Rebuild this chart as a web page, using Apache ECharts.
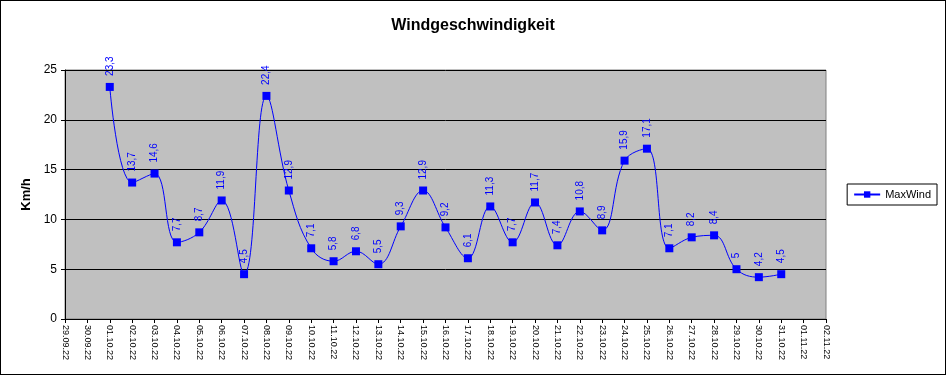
<!DOCTYPE html>
<html><head><meta charset="utf-8">
<script src="https://cdn.jsdelivr.net/npm/echarts@6/dist/echarts.min.js"></script>
<style>html,body{margin:0;padding:0;background:#fff}#c{width:946px;height:375px;box-sizing:border-box;border:1px solid #000}</style>
</head><body><div id="c"></div>
<script>
const categories = ["29.09.22","30.09.22","01.10.22","02.10.22","03.10.22","04.10.22","05.10.22","06.10.22","07.10.22","08.10.22","09.10.22","10.10.22","11.10.22","12.10.22","13.10.22","14.10.22","15.10.22","16.10.22","17.10.22","18.10.22","19.10.22","20.10.22","21.10.22","22.10.22","23.10.22","24.10.22","25.10.22","26.10.22","27.10.22","28.10.22","29.10.22","30.10.22","31.10.22","01.11.22","02.11.22"];
const maxWind = [null,null,23.3,13.7,14.6,7.7,8.7,11.9,4.5,22.4,12.9,7.1,5.8,6.8,5.5,9.3,12.9,9.2,6.1,11.3,7.7,11.7,7.4,10.8,8.9,15.9,17.1,7.1,8.2,8.4,5,4.2,4.5,null,null];
const yTicks = [0,5,10,15,20,25];

const chart = echarts.init(document.getElementById('c'));
chart.setOption({
  animation:false,
  title:{text:'Windgeschwindigkeit',left:'center',top:12,textStyle:{fontFamily:'Liberation Sans, Arial',fontSize:16,fontWeight:'bold',color:'#000'}},
  grid:{left:64,right:119,top:69,bottom:55,show:true,backgroundColor:'#c0c0c0',borderColor:'#808080',borderWidth:1},
  legend:{right:8,top:183,orient:'vertical',data:['MaxWind'],itemWidth:26,itemHeight:8,itemGap:4,
    borderColor:'#000',borderWidth:1,padding:[5,6,5,6],borderRadius:0,
    textStyle:{fontFamily:'Liberation Sans, Arial',fontSize:11,color:'#000'}},
  xAxis:{type:'category',data:categories,boundaryGap:false,
    axisLine:{lineStyle:{color:'#000'}},axisTick:{show:true,lineStyle:{color:'#000'},length:4},
    axisLabel:{rotate:-90,interval:0,fontFamily:'Liberation Sans, Arial',fontSize:9,color:'#000',margin:6},
    splitLine:{show:false}},
  yAxis:{type:'value',min:0,max:25,interval:5,name:'Km/h',nameLocation:'middle',nameGap:30,
    nameTextStyle:{fontFamily:'Liberation Sans, Arial',fontSize:13,fontWeight:'bold',color:'#000'},
    axisLine:{show:true,lineStyle:{color:'#000'}},axisTick:{show:true,lineStyle:{color:'#000'},length:4},
    axisLabel:{fontFamily:'Liberation Sans, Arial',fontSize:12,color:'#000',margin:8,
      formatter:v=>yTicks.includes(v)?String(v):''},
    splitLine:{show:true,lineStyle:{color:'#000',width:1}}},
  series:[{name:'MaxWind',type:'line',data:maxWind,smooth:0.4,connectNulls:false,
    symbol:'rect',symbolSize:8,
    itemStyle:{color:'#0000ff'},lineStyle:{color:'#0000ff',width:1},
    label:{show:true,position:'top',rotate:90,distance:7,align:'left',verticalAlign:'middle',
      fontFamily:'Liberation Sans, Arial',fontSize:10,color:'#0000ff',
      formatter:p=>String(p.value).replace('.',',')}}]
});
</script></body></html>
